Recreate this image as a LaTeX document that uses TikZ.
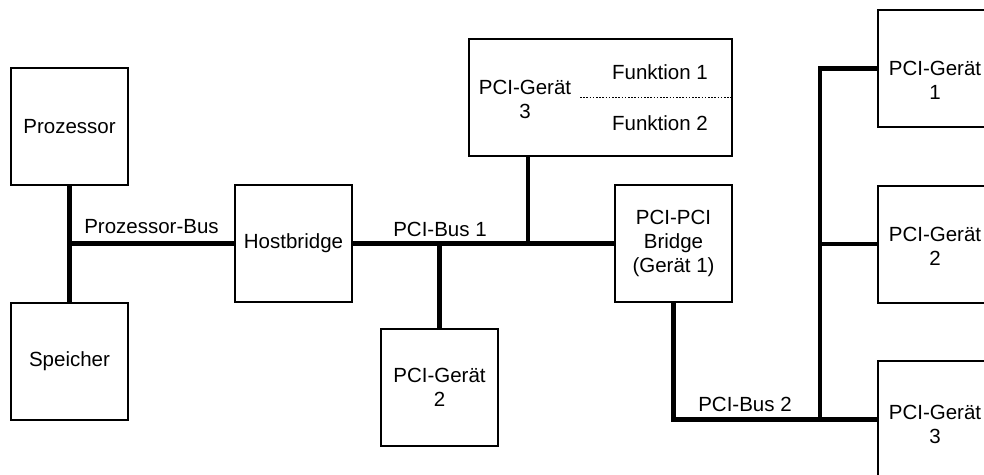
\documentclass[tikz,border=0pt]{standalone}
\usepackage{fontspec}
\setmainfont{Liberation Sans}
\begin{document}
\begin{tikzpicture}[x=1pt,y=-1pt,
  txt/.style={inner sep=0pt, align=center, font=\fontsize{20.5}{24}\selectfont},
  box/.style={txt, draw, line width=2pt, minimum width=117pt, minimum height=117pt},
  bus/.style={line width=4.5pt},
  sep/.style={line width=1pt, dash pattern=on 1.6pt off 1.6pt}]
\useasboundingbox (0,0) rectangle (984,474);
\clip (0,0) rectangle (984,474);

% host side
\node[box] (proz) at (69.5,126.5) {Prozessor};
\node[box] (speich) at (69.5,361) {Speicher};
\node[box] (host) at (293.5,243.5) {Hostbridge};

% PCI bus 1 devices
\node[box, minimum width=263pt] (dev3) at (600.5,97.5) {};
\node[txt] (dev3t) at (525,99.5) {PCI-Gerät\\3};
\node[txt] (fn1) at (660,72) {Funktion 1};
\node[txt] (fn2) at (660,123) {Funktion 2};
\coordinate (dsep) at (580,97.5);
\draw[sep] (dsep) -- (dsep -| dev3.east);

\node[box] (bridge) at (673.5,243.5) {PCI-PCI\\Bridge\\(Gerät 1)};
\node[box] (dev2) at (439.5,387.5) {PCI-Gerät\\2};

% PCI bus 2 devices
\node[box] (r1) at (936.5,68.5) {};
\node[box] (r2) at (936.5,244) {};
\node[box] (r3) at (936.5,419.5) {};
\node[txt] (r1t) at (935,80.5) {PCI-Gerät\\1};
\node[txt] (r2t) at (935,246) {PCI-Gerät\\2};
\node[txt] (r3t) at (935,424) {PCI-Gerät\\3};

% buses
\draw[bus] (proz.south) -- (speich.north);
\draw[bus] (proz.south |- host.west) -- (host.west);
\draw[bus] (host.east) -- (bridge.west);
\coordinate (j1) at (528,243.5);
\draw[bus] (j1) -- (j1 |- dev3.south);
\draw[bus] (dev2.north) -- (dev2.north |- host.east);
\draw[bus] (bridge.south) |- (r3.west);
\coordinate (j2) at (820,419.5);
\draw[bus] (r1.west) -| (j2);
\draw[bus] (r2.west) -- (r2.west -| j2);

% bus labels
\node[txt] (lpb) at (151.5,227) {Prozessor-Bus};
\node[txt] (lb1) at (440,229) {PCI-Bus 1};
\node[txt] (lb2) at (745,404) {PCI-Bus 2};
\end{tikzpicture}
\end{document}
